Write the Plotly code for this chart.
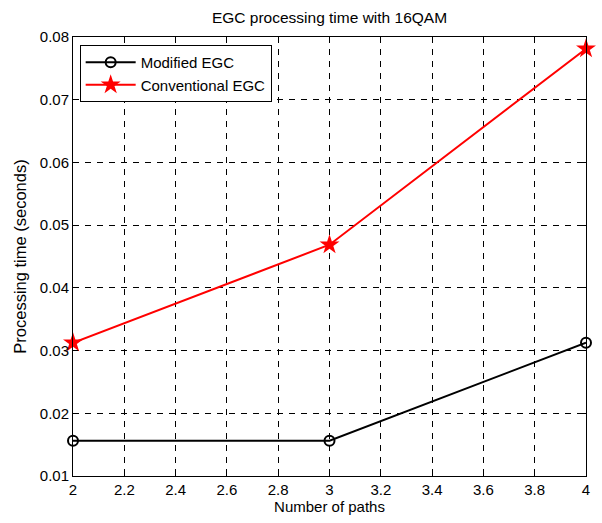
import plotly.graph_objects as go

paths = [2, 3, 4]
modified = [0.015625, 0.015625, 0.03125]
conventional = [0.03125, 0.046875, 0.078125]
x_ticks = [2, 2.2, 2.4, 2.6, 2.8, 3, 3.2, 3.4, 3.6, 3.8, 4]
x_ticktext = ["2", "2.2", "2.4", "2.6", "2.8", "3", "3.2", "3.4", "3.6", "3.8", "4"]
y_ticks = [0.01, 0.02, 0.03, 0.04, 0.05, 0.06, 0.07, 0.08]
y_ticktext = ["0.01", "0.02", "0.03", "0.04", "0.05", "0.06", "0.07", "0.08"]

font = "Liberation Sans, Arial, sans-serif"
fs = 15

fig = go.Figure()
fig.add_trace(go.Scatter(
    x=paths, y=modified, name="Modified EGC", mode="lines+markers",
    line=dict(color="black", width=2),
    marker=dict(symbol="circle-open", size=10, color="black", line=dict(width=2)),
    cliponaxis=False,
))
fig.add_trace(go.Scatter(
    x=paths, y=conventional, name="Conventional EGC", mode="lines+markers",
    line=dict(color="red", width=2),
    marker=dict(symbol="star", size=15, color="red", line=dict(width=0)),
    cliponaxis=False,
))

axis_common = dict(
    showline=True, linecolor="black", linewidth=1, mirror="ticks",
    ticks="inside", ticklen=5, tickcolor="black",
    showgrid=True, gridcolor="black", griddash="6px,6px", gridwidth=1,
    zeroline=False, tickfont=dict(family=font, size=fs, color="black"),
)
fig.update_xaxes(range=[2, 4], tickvals=x_ticks, ticktext=x_ticktext,
                 title=dict(text="Number of paths", font=dict(family=font, size=fs, color="black"), standoff=2),
                 **axis_common)
fig.update_yaxes(range=[0.01, 0.08], tickvals=y_ticks, ticktext=y_ticktext,
                 title=dict(text="Processing time (seconds)", font=dict(family=font, size=16.5, color="black"), standoff=9),
                 **axis_common)

fig.update_layout(
    width=602, height=523,
    margin=dict(l=73, r=13, t=37, b=47),
    paper_bgcolor="white", plot_bgcolor="white",
    title=dict(text="EGC processing time with 16QAM", x=0.5, xref="paper", xanchor="center",
               y=1 - 18 / 523, yanchor="middle",
               font=dict(family=font, size=15.5, color="black")),
    font=dict(family=font, size=fs, color="black"),
    showlegend=True,
    legend=dict(x=0.013, y=0.982, xanchor="left", yanchor="top",
                bgcolor="white", bordercolor="black", borderwidth=1,
                font=dict(family=font, size=fs, color="black"),
                itemwidth=50, tracegroupgap=0),
)

fig.write_html("out.html")
